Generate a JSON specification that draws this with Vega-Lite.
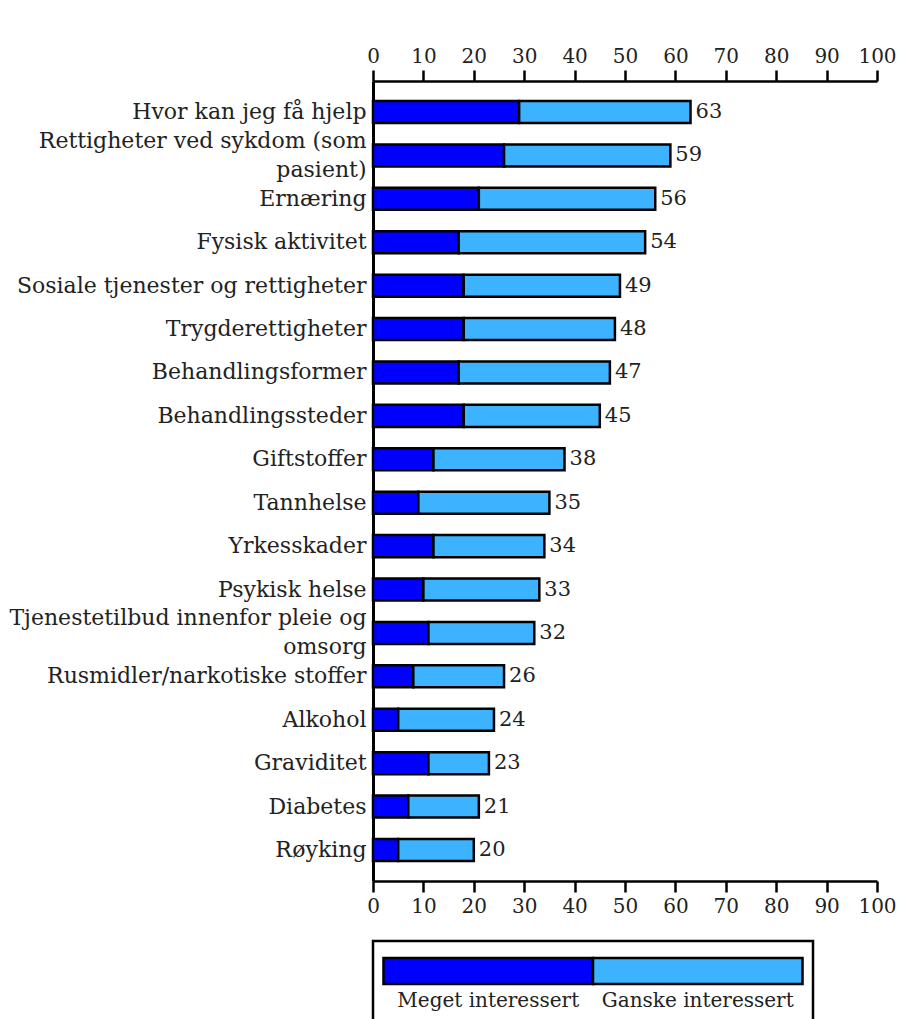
{
  "$schema": "https://vega.github.io/schema/vega-lite/v6.json",
  "padding": {"top": 46, "left": 8, "right": 2, "bottom": 0},
  "bounds": "flush",
  "spacing": 60,
  "config": {
    "view": {"stroke": null},
    "font": "DejaVu Serif",
    "axis": {"grid": false},
    "axisX": {
      "domainColor": "black", "domainWidth": 2.5, "tickColor": "black", "tickWidth": 2.5, "tickSize": 11,
      "labelFont": "DejaVu Serif", "labelFontSize": 20, "labelColor": "#222", "labelPadding": 4, "title": null,
      "values": [0, 10, 20, 30, 40, 50, 60, 70, 80, 90, 100], "labelFlush": false
    }
  },
  "datasets": {
    "bars": [
      {"cat": "Hvor kan jeg få hjelp", "serie": "Meget interessert", "o": 1, "value": 29, "total": 63},
      {"cat": "Hvor kan jeg få hjelp", "serie": "Ganske interessert", "o": 2, "value": 34, "total": 63},
      {"cat": "Rettigheter ved sykdom (som|pasient)", "serie": "Meget interessert", "o": 1, "value": 26, "total": 59},
      {"cat": "Rettigheter ved sykdom (som|pasient)", "serie": "Ganske interessert", "o": 2, "value": 33, "total": 59},
      {"cat": "Ernæring", "serie": "Meget interessert", "o": 1, "value": 21, "total": 56},
      {"cat": "Ernæring", "serie": "Ganske interessert", "o": 2, "value": 35, "total": 56},
      {"cat": "Fysisk aktivitet", "serie": "Meget interessert", "o": 1, "value": 17, "total": 54},
      {"cat": "Fysisk aktivitet", "serie": "Ganske interessert", "o": 2, "value": 37, "total": 54},
      {"cat": "Sosiale tjenester og rettigheter", "serie": "Meget interessert", "o": 1, "value": 18, "total": 49},
      {"cat": "Sosiale tjenester og rettigheter", "serie": "Ganske interessert", "o": 2, "value": 31, "total": 49},
      {"cat": "Trygderettigheter", "serie": "Meget interessert", "o": 1, "value": 18, "total": 48},
      {"cat": "Trygderettigheter", "serie": "Ganske interessert", "o": 2, "value": 30, "total": 48},
      {"cat": "Behandlingsformer", "serie": "Meget interessert", "o": 1, "value": 17, "total": 47},
      {"cat": "Behandlingsformer", "serie": "Ganske interessert", "o": 2, "value": 30, "total": 47},
      {"cat": "Behandlingssteder", "serie": "Meget interessert", "o": 1, "value": 18, "total": 45},
      {"cat": "Behandlingssteder", "serie": "Ganske interessert", "o": 2, "value": 27, "total": 45},
      {"cat": "Giftstoffer", "serie": "Meget interessert", "o": 1, "value": 12, "total": 38},
      {"cat": "Giftstoffer", "serie": "Ganske interessert", "o": 2, "value": 26, "total": 38},
      {"cat": "Tannhelse", "serie": "Meget interessert", "o": 1, "value": 9, "total": 35},
      {"cat": "Tannhelse", "serie": "Ganske interessert", "o": 2, "value": 26, "total": 35},
      {"cat": "Yrkesskader", "serie": "Meget interessert", "o": 1, "value": 12, "total": 34},
      {"cat": "Yrkesskader", "serie": "Ganske interessert", "o": 2, "value": 22, "total": 34},
      {"cat": "Psykisk helse", "serie": "Meget interessert", "o": 1, "value": 10, "total": 33},
      {"cat": "Psykisk helse", "serie": "Ganske interessert", "o": 2, "value": 23, "total": 33},
      {"cat": "Tjenestetilbud innenfor pleie og|omsorg", "serie": "Meget interessert", "o": 1, "value": 11, "total": 32},
      {"cat": "Tjenestetilbud innenfor pleie og|omsorg", "serie": "Ganske interessert", "o": 2, "value": 21, "total": 32},
      {"cat": "Rusmidler/narkotiske stoffer", "serie": "Meget interessert", "o": 1, "value": 8, "total": 26},
      {"cat": "Rusmidler/narkotiske stoffer", "serie": "Ganske interessert", "o": 2, "value": 18, "total": 26},
      {"cat": "Alkohol", "serie": "Meget interessert", "o": 1, "value": 5, "total": 24},
      {"cat": "Alkohol", "serie": "Ganske interessert", "o": 2, "value": 19, "total": 24},
      {"cat": "Graviditet", "serie": "Meget interessert", "o": 1, "value": 11, "total": 23},
      {"cat": "Graviditet", "serie": "Ganske interessert", "o": 2, "value": 12, "total": 23},
      {"cat": "Diabetes", "serie": "Meget interessert", "o": 1, "value": 7, "total": 21},
      {"cat": "Diabetes", "serie": "Ganske interessert", "o": 2, "value": 14, "total": 21},
      {"cat": "Røyking", "serie": "Meget interessert", "o": 1, "value": 5, "total": 20},
      {"cat": "Røyking", "serie": "Ganske interessert", "o": 2, "value": 15, "total": 20}
    ],
    "legend": [
      {"serie": "Meget interessert", "part": "bar"},
      {"serie": "Ganske interessert", "part": "bar"},
      {"serie": "Meget interessert", "part": "label"},
      {"serie": "Ganske interessert", "part": "label"}
    ]
  },
  "vconcat": [
    {
      "width": 504,
      "height": 800,
      "data": {"name": "bars"},
      "encoding": {
        "y": {
          "field": "cat", "type": "nominal", "sort": null,
          "scale": {"paddingInner": 0.493, "paddingOuter": 0.46},
          "axis": {
            "title": null, "ticks": false, "domainColor": "black", "domainWidth": 3,
            "labelFont": "DejaVu Serif", "labelFontSize": 22, "labelColor": "#222", "labelPadding": 7,
            "labelLimit": 500, "labelLineHeight": 29, "labelExpr": "split(datum.label, '|')",
            "labelOffset": {"condition": {"test": "indexof(datum.label, '|') >= 0", "value": -14.5}, "value": 0}
          }
        }
      },
      "layer": [
        {
          "mark": {"type": "bar", "stroke": "black", "strokeWidth": 2.5},
          "encoding": {
            "x": {"field": "value", "type": "quantitative", "stack": "zero", "scale": {"domain": [0, 100], "nice": false}, "axis": {"orient": "bottom"}},
            "color": {"field": "serie", "type": "nominal", "scale": {"domain": ["Meget interessert", "Ganske interessert"], "range": ["#0000FF", "#3DB2FF"]}, "legend": null},
            "order": {"field": "o", "type": "quantitative"}
          }
        },
        {
          "transform": [{"filter": "datum.o == 2"}],
          "mark": {"type": "text", "align": "left", "baseline": "middle", "dx": 5, "font": "DejaVu Serif", "fontSize": 21, "color": "#222"},
          "encoding": {
            "x": {"field": "total", "type": "quantitative", "scale": {"domain": [0, 100], "nice": false}, "axis": {"orient": "top"}},
            "text": {"field": "total", "type": "quantitative"}
          }
        }
      ],
      "resolve": {"axis": {"x": "independent"}}
    },
    {
      "width": 440,
      "height": 90,
      "view": {"stroke": "black", "strokeWidth": 2.5},
      "data": {"name": "legend"},
      "encoding": {
        "x": {"field": "serie", "type": "nominal", "sort": ["Meget interessert", "Ganske interessert"], "scale": {"paddingInner": 0, "paddingOuter": 0.05}, "axis": null},
        "y": {"field": "part", "type": "nominal", "sort": ["bar", "label"], "scale": {"paddingInner": 0.133, "paddingOuter": 0.567}, "axis": null}
      },
      "layer": [
        {
          "transform": [{"filter": "datum.part == 'bar'"}],
          "mark": {"type": "bar", "stroke": "black", "strokeWidth": 2.5},
          "encoding": {
            "color": {"field": "serie", "type": "nominal", "scale": {"domain": ["Meget interessert", "Ganske interessert"], "range": ["#0000FF", "#3DB2FF"]}, "legend": null}
          }
        },
        {
          "transform": [{"filter": "datum.part == 'label'"}],
          "mark": {"type": "text", "align": "center", "baseline": "middle", "font": "DejaVu Serif", "fontSize": 20, "color": "#222"},
          "encoding": {"text": {"field": "serie", "type": "nominal"}}
        }
      ]
    }
  ]
}
